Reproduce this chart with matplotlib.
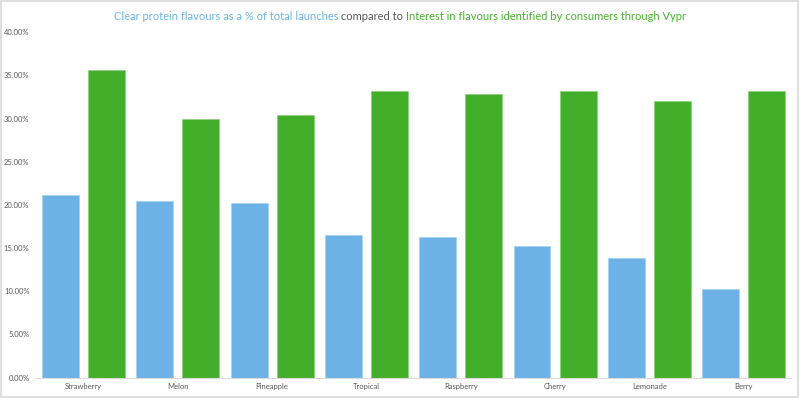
import matplotlib
matplotlib.use("Agg")
from matplotlib import pyplot as plt
from matplotlib.patches import Rectangle
from matplotlib.ticker import PercentFormatter, MultipleLocator
import numpy as np

plt.rcParams["font.family"] = ["Lato", "DejaVu Sans"]

# data (percent)
flavours = ["Strawberry", "Melon", "Pineapple", "Tropical",
            "Raspberry", "Cherry", "Lemonade", "Berry"]
launch_share = [21.2, 20.5, 20.2, 16.5, 16.3, 15.2, 13.8, 10.3]
vypr_interest = [35.6, 30.0, 30.4, 33.2, 32.8, 33.2, 32.0, 33.2]

title_parts = [
    ("Clear protein flavours as a % of total launches", "#6FB5E7"),
    (" compared to ", "#595959"),
    ("Interest in flavours identified by consumers through Vypr", "#49B22F"),
]

blue = "#6CB2E6"
green = "#43AE29"
grey = "#595959"
light = "#D9D9D9"

fig = plt.figure(figsize=(8, 3.98), dpi=100)
ax = fig.add_axes([0.0454, 0.0515, 0.9431, 0.8673])

x = np.arange(len(flavours))
w = 0.392
off = 0.244
ax.bar(x - off, launch_share, width=w, color=blue, edgecolor="#A9D3F2", linewidth=0.6)
ax.bar(x + off, vypr_interest, width=w, color=green, edgecolor="#8ED27E", linewidth=0.6)

ax.set_xlim(-0.5, len(flavours) - 0.5)
ax.set_ylim(0, 40)
ax.yaxis.set_major_locator(MultipleLocator(5))
ax.yaxis.set_major_formatter(PercentFormatter(xmax=100, decimals=2))
ax.set_xticks(x)
ax.set_xticklabels(flavours)
ax.tick_params(axis="both", length=0, labelsize=5.5, colors=grey)
ax.tick_params(axis="y", pad=5)
ax.tick_params(axis="x", pad=4)
for s in ["top", "right", "left"]:
    ax.spines[s].set_visible(False)
ax.spines["bottom"].set_color(light)
ax.spines["bottom"].set_linewidth(0.8)

# multi-coloured title, laid out piece by piece then centred
renderer = fig.canvas.get_renderer()
ty = 1 - 17 / 398
texts = []
xpos = 0.0
for s, c in title_parts:
    t = fig.text(xpos, ty, s, color=c, fontsize=8.0, ha="left", va="center")
    bb = t.get_window_extent(renderer)
    xpos += bb.width / fig.bbox.width
    texts.append(t)
shift = 0.5 - xpos / 2
for t in texts:
    px, py = t.get_position()
    t.set_position((px + shift, py))

fig.patches.append(Rectangle((0.001, 0.002), 0.997, 0.995, transform=fig.transFigure,
                             fill=False, edgecolor=light, linewidth=1.2))

fig.savefig("out.png", dpi=100)
